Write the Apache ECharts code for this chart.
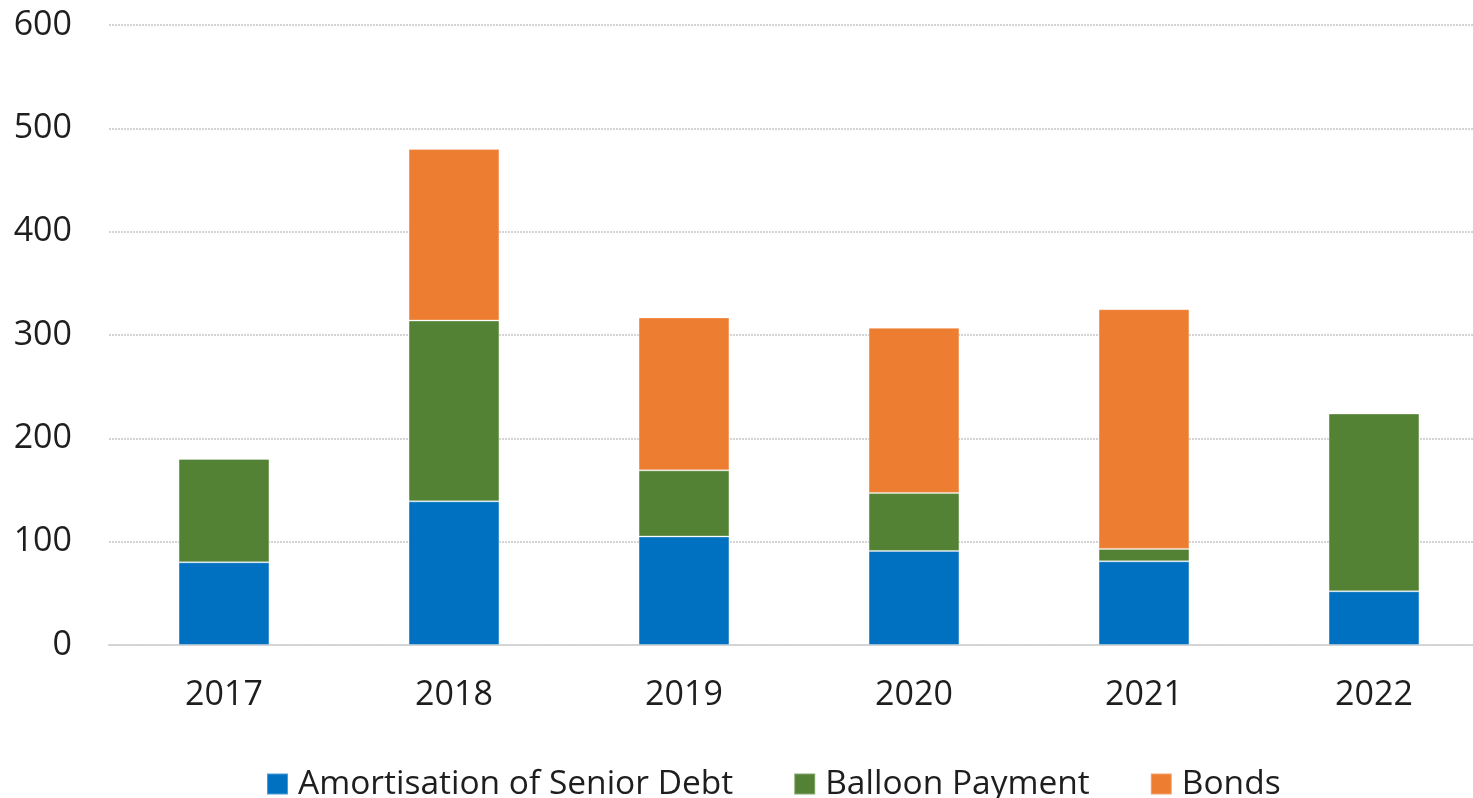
<!DOCTYPE html>
<html>
<head>
<meta charset="utf-8">
<script src="https://cdn.jsdelivr.net/npm/echarts@6/dist/echarts.min.js"></script>
<style>
  html, body { margin: 0; padding: 0; background: #ffffff; overflow: hidden; }
  /* canvas is a little wider than the window, so the plot runs off the right edge */
  #chart { width: 1489px; height: 798px; }
</style>
</head>
<body>
<div id="chart"></div>
<script>
// Debt repayment schedule by year, stacked by source
const years = ['2017', '2018', '2019', '2020', '2021', '2022'];
const amortisation = [80, 139, 105, 91, 81, 52];
const balloon = [100, 175, 64, 56, 12, 172];
const bonds = [null, 166, 148, 160, 232, null];
const yTicks = { min: 0, max: 600, interval: 100 };

const FONT = '"Open Sans", "Liberation Sans", sans-serif';
const gridLine = { color: '#d4d4d4', width: 2, type: [2, 1] };
const barBorder = { borderColor: 'rgba(255,255,255,0.3)', borderWidth: 1 };

const chart = echarts.init(document.getElementById('chart'), null, { renderer: 'canvas' });

function barSeries(name, data, color) {
  return {
    name: name,
    type: 'bar',
    stack: 'total',
    data: data,
    barWidth: '39.5%',
    itemStyle: Object.assign({ color: color }, barBorder),
    emphasis: { disabled: true }
  };
}

chart.setOption({
  animation: false,
  textStyle: { fontFamily: FONT },
  grid: { left: 109, right: 0, top: 25, bottom: 153, containLabel: false },
  xAxis: {
    type: 'category',
    data: years,
    axisLine: { show: true, lineStyle: gridLine },
    axisTick: { show: false },
    axisLabel: { fontSize: 34, color: '#1e1e1e', margin: 33, fontFamily: FONT }
  },
  yAxis: {
    type: 'value',
    min: yTicks.min,
    max: yTicks.max,
    interval: yTicks.interval,
    axisLine: { show: false },
    axisTick: { show: false },
    axisLabel: { fontSize: 34, color: '#1e1e1e', margin: 37, fontFamily: FONT },
    splitLine: { show: true, lineStyle: gridLine }
  },
  legend: {
    top: 762,
    left: 261,
    itemWidth: 21,
    itemHeight: 21,
    itemGap: 60,
    icon: 'rect',
    textStyle: { fontSize: 33.5, color: '#1e1e1e', fontFamily: FONT, padding: [0, 0, 0, 5] },
    data: ['Amortisation of Senior Debt', 'Balloon Payment', 'Bonds']
  },
  series: [
    barSeries('Amortisation of Senior Debt', amortisation, '#0070c0'),
    barSeries('Balloon Payment', balloon, '#548235'),
    barSeries('Bonds', bonds, '#ed7d31')
  ]
});
</script>
</body>
</html>
